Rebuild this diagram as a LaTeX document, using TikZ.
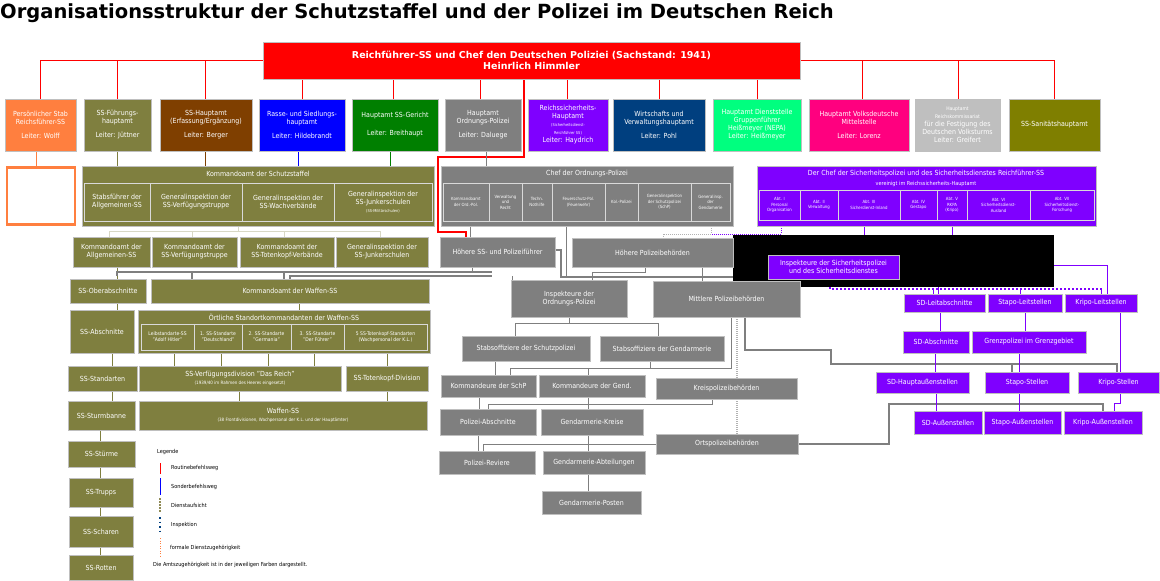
\documentclass[tikz,border=0pt]{standalone}
\usepackage{fontspec}
\setmainfont{DejaVu Sans Condensed}
\usetikzlibrary{backgrounds}
\definecolor{cor}{HTML}{FF7F3F}\definecolor{col}{HTML}{7F7F3F}\definecolor{cbr}{HTML}{7F3F00}
\definecolor{cbl}{HTML}{0000FF}\definecolor{cgr}{HTML}{007F00}\definecolor{cgy}{HTML}{7F7F7F}
\definecolor{cpu}{HTML}{7F00FF}\definecolor{cnv}{HTML}{003F7F}\definecolor{cmi}{HTML}{00FF7F}
\definecolor{cpk}{HTML}{FF007F}\definecolor{clg}{HTML}{BFBFBF}\definecolor{cok}{HTML}{7F7F00}
\tikzset{bx/.style={draw=white!75!black,line width=0.6pt,text=white,align=center,inner sep=0.5pt,font=\fontsize{7}{8}\selectfont},
 sub/.style={bx,draw=white!85!black},
 ln/.style={line width=0.8pt},
 tiny/.style={font=\fontsize{5}{6}\selectfont}}
\newcommand\B[7][]{\node[bx,#1,minimum width={(#5-#3)*1pt},minimum height={(#6-#4)*1pt}] (#2) at ({(#3+#5)/2},{(#4+#6)/2}) {#7};}
\newcommand\fs[1]{\fontsize{#1}{#1}\selectfont}
\begin{document}
\begin{tikzpicture}[x=1pt,y=-1pt]
\useasboundingbox (0,0) rectangle (1160,581);
\node[anchor=west,font=\bfseries\fontsize{19.5}{20}\selectfont,inner sep=0] (title) at (0,13) {\fontspec{DejaVu Sans}\bfseries Organisationsstruktur der Schutzstaffel und der Polizei im Deutschen Reich};
% top
\B[fill=red,font=\bfseries\fontsize{9.5}{11}\selectfont]{top}{263}{42}{800}{79}{\fontspec{DejaVu Sans}\bfseries Reichführer-SS und Chef den Deutschen Poliziei (Sachstand: 1941)\\\fontspec{DejaVu Sans}\bfseries Heinrlich Himmler}
% row 1
\B[fill=cor]{a1}{5}{99}{76}{151}{Persönlicher Stab\\Reichsführer-SS\\[6pt]Leiter: Wolff}
\B[fill=col]{a2}{84}{99}{151}{151}{SS-Führungs-\\hauptamt\\[6pt]Leiter: Jüttner}
\B[fill=cbr]{a3}{160}{99}{252}{151}{SS-Hauptamt\\(Erfassung/Ergänzung)\\[6pt]Leiter: Berger}
\B[fill=cbl]{a4}{259}{99}{345}{151}{Rasse- und Siedlungs-\\hauptamt\\[6pt]Leiter: Hildebrandt}
\B[fill=cgr]{a5}{352}{99}{438}{151}{Hauptamt SS-Gericht\\[10pt]Leiter: Breithaupt}
\B[fill=cgy]{a6}{445}{99}{521}{151}{Hauptamt\\Ordnungs-Polizei\\[6pt]Leiter: Daluege}
\B[fill=cpu]{a7}{528}{99}{608}{151}{Reichssicherheits-\\Hauptamt\\\fs{4}(Sicherheitsdienst-\\\fs{4}Reichführer SS)\\\fs{7}Leiter: Haydrich}
\B[fill=cnv]{a8}{613}{99}{705}{151}{Wirtschafts und\\Verwaltungshauptamt\\[6pt]Leiter: Pohl}
\B[fill=cmi]{a9}{713}{99}{801}{151}{Hauptamt Dienststelle\\Gruppenführer\\Heißmeyer (NEPA)\\Leiter: Heißmeyer}
\B[fill=cpk]{a10}{809}{99}{909}{151}{Hauptamt Volksdeutsche\\Mittelstelle\\[6pt]Leiter: Lorenz}
\B[fill=clg]{a11}{915}{99}{1000}{151}{\fs{5}Hauptamt\\\fs{5}Reichskommissariat\\\fs{7}für die Festigung des\\\fs{7}Deutschen Volksturms\\\fs{7}Leiter: Greifert}
\B[fill=cok]{a12}{1009}{99}{1100}{151}{SS-Sanitätshauptamt}
% orange empty
\node[draw=cor,line width=2.5pt,minimum width=68pt,minimum height=57pt] (emp) at (41,196) {};
% Kommandoamt der Schutzstaffel
\B[fill=col]{ks}{82}{166}{434}{226}{}
\node[text=white,font=\fontsize{7}{8}\selectfont] (kst) at (258,174) {Kommandoamt der Schutzstaffel};
\B[sub,fill=col]{ks1}{84}{183}{150}{221}{Stabsführer der\\Allgemeinen-SS}
\B[sub,fill=col]{ks2}{150}{183}{242}{221}{Generalinspektion der\\SS-Verfügungstruppe}
\B[sub,fill=col]{ks3}{242}{183}{334}{221}{Generalinspektion der\\SS-Wachverbände}
\B[sub,fill=col]{ks4}{334}{183}{432}{221}{Generalinspektion der\\SS-Junkerschulen\\\fs{4}(SS-Militärschulen)}
\B[fill=col]{k1}{73}{237}{150}{267}{Kommandoamt der\\Allgemeinen-SS}
\B[fill=col]{k2}{152}{237}{237}{267}{Kommandoamt der\\SS-Verfügungstruppe}
\B[fill=col]{k3}{240}{237}{334}{267}{Kommandoamt der\\SS-Totenkopf-Verbände}
\B[fill=col]{k4}{336}{237}{428}{267}{Generalinspektion der\\SS-Junkerschulen}
\B[fill=col]{ob}{70}{279}{146}{303}{SS-Oberabschnitte}
\B[fill=col]{kw}{151}{279}{429}{303}{Kommandoamt der Waffen-SS}
\B[fill=col]{ab}{70}{310}{134}{353}{SS-Abschnitte}
\B[fill=col]{os}{138}{310}{430}{353}{}
\node[text=white,font=\fontsize{7}{8}\selectfont] (ost) at (284,317) {Örtliche Standortkommandanten der Waffen-SS};
\B[sub,fill=col,tiny]{o1}{141}{324}{194}{350}{Leibstandarte-SS\\"Adolf Hitler"}
\B[sub,fill=col,tiny]{o2}{194}{324}{242}{350}{1. SS-Standarte\\"Deutschland"}
\B[sub,fill=col,tiny]{o3}{242}{324}{291}{350}{2. SS-Standarte\\"Germania"}
\B[sub,fill=col,tiny]{o4}{291}{324}{344}{350}{3. SS-Standarte\\"Der Führer"}
\B[sub,fill=col,tiny]{o5}{344}{324}{427}{350}{5 SS-Totenkopf-Standarten\\(Wachpersonal der K.L.)}
\B[fill=col]{st}{68}{366}{137}{391}{SS-Standarten}
\B[fill=col]{vd}{139}{366}{341}{391}{SS-Verfügungsdivision "Das Reich"\\\fs{4.5}(1939/40 im Rahmen des Heeres eingesetzt)}
\B[fill=col]{td}{346}{366}{428}{391}{SS-Totenkopf-Division}
\B[fill=col]{sb}{68}{401}{135}{430}{SS-Sturmbanne}
\B[fill=col]{wf}{139}{401}{427}{430}{Waffen-SS\\\fs{4.5}(38 Frontdivisionen, Wachpersonal der K.L. und der Hauptämter)}
\B[fill=col]{sst}{68}{441}{135}{467}{SS-Stürme}
\B[fill=col]{str}{69}{478}{133}{507}{SS-Trupps}
\B[fill=col]{ssc}{69}{516}{133}{547}{SS-Scharen}
\B[fill=col]{sro}{69}{555}{133}{580}{SS-Rotten}
% legend
\tikzset{lg/.style={anchor=west,font=\fontsize{5.5}{6}\selectfont,inner sep=0}}
\node[lg] (lg0) at (157,452) {Legende};
\node[lg] (lg1) at (171,468) {Routinebefehlsweg};
\node[lg] (lg2) at (171,487) {Sonderbefehlsweg};
\node[lg] (lg3) at (171,505) {Dienstaufsicht};
\node[lg] (lg4) at (171,525) {Inspektion};
\node[lg] (lg5) at (170,548) {formale Dienstzugehörigkeit};
\node[lg] (lg6) at (153,565) {Die Amtszugehörigkeit ist in der jeweiligen Farben dargestellt.};
\coordinate (l1a) at (160,463);\coordinate (l1b) at (160,474);
\coordinate (l2a) at (160,478);\coordinate (l2b) at (160,495);
\coordinate (l3a) at (160,498);\coordinate (l3b) at (160,512);
\coordinate (l4a) at (160,517);\coordinate (l4b) at (160,533);
\coordinate (l5a) at (160,538);\coordinate (l5b) at (160,556);
\draw[red,line width=0.6pt] (l1a)--(l1b);
\draw[cbl,line width=1pt] (l2a)--(l2b);
\draw[gray!60!olive,line width=1.2pt,dash pattern=on 2pt off 1pt] (l3a)--(l3b);
\draw[cnv,line width=1.5pt,dash pattern=on 1.5pt off 3pt] (l4a)--(l4b);
\draw[cor,line width=1pt,dash pattern=on 1pt off 1.5pt] (l5a)--(l5b);
% police gray
\B[fill=cgy]{co}{441}{166}{733}{226}{}
\node[text=white,font=\fontsize{7}{8}\selectfont] (cot) at (587,174) {Chef der Ordnungs-Polizei};
\tikzset{ts/.style={sub,fill=cgy,font=\fontsize{4.3}{5.5}\selectfont}}
\B[ts]{c1}{443}{183}{489}{221}{Kommandoamt\\der Ord.-Pol.}
\B[ts]{c2}{489}{183}{522}{221}{Verwaltung\\und\\Recht}
\B[ts]{c3}{522}{183}{552}{221}{Techn.\\Nothilfe}
\B[ts]{c4}{552}{183}{605}{221}{Feuerschutz-Pol.\\(Feuerwehr)}
\B[ts]{c5}{605}{183}{638}{221}{Kol.-Polizei}
\B[ts]{c6}{638}{183}{691}{221}{Generalinspektion\\der Schutzpolizei\\(SchP)}
\B[ts]{c7}{691}{183}{730}{221}{Generalinsp.\\der\\Gendamerie}
\node[fill=black,minimum width=321pt,minimum height=52pt,inner sep=0] (blk) at (893.5,261) {};
\B[fill=cgy]{hs}{440}{237}{555}{267}{Höhere SS- und Polizeiführer}
\B[fill=cgy]{hp}{572}{238}{733}{267}{Höhere Polizeibehörden}
\B[fill=cpu]{is}{768}{255}{899}{279}{Inspekteure der Sicherheitspolizei\\und des Sicherheitsdienstes}
\B[fill=cgy]{io}{511}{280}{627}{317}{Inspekteure der\\Ordnungs-Polizei}
\B[fill=cgy]{mp}{653}{281}{800}{317}{Mittlere Polizeibehörden}
\B[fill=cgy]{ss}{462}{336}{590}{361}{Stabsoffiziere der Schutzpolizei}
\B[fill=cgy]{sg}{600}{336}{724}{361}{Stabsoffiziere der Gendarmerie}
\B[fill=cgy]{ks5}{441}{375}{536}{397}{Kommandeure der SchP}
\B[fill=cgy]{kg}{539}{375}{645}{397}{Kommandeure der Gend.}
\B[fill=cgy]{kp}{656}{378}{797}{399}{Kreispolizeibehörden}
\B[fill=cgy]{pa}{440}{409}{536}{435}{Polizei-Abschnitte}
\B[fill=cgy]{gk}{541}{409}{643}{435}{Gendarmerie-Kreise}
\B[fill=cgy]{op}{656}{434}{798}{454}{Ortspolizeibehörden}
\B[fill=cgy]{pr}{439}{451}{535}{474}{Polizei-Reviere}
\B[fill=cgy]{ga}{543}{451}{645}{474}{Gendarmerie-Abteilungen}
\B[fill=cgy]{gp}{542}{491}{641}{514}{Gendarmerie-Posten}
% purple
\B[fill=cpu]{cs}{757}{166}{1096}{226}{}
\node[text=white,font=\fontsize{7}{8}\selectfont] (cst) at (926,174) {Der Chef der Sicherheitspolizei und des Sicherheitsdienstes Reichführer-SS};
\node[text=white,font=\fontsize{5.5}{6}\selectfont] (cst2) at (926,184) {vereinigt im Reichssicherheits-Hauptamt};
\tikzset{ps/.style={sub,fill=cpu,font=\fontsize{4.3}{5.5}\selectfont}}
\B[ps]{p1}{759}{190}{800}{220}{Abt. I\\Personal\\Organisation}
\B[ps]{p2}{800}{190}{838}{220}{Abt. II\\Verwaltung}
\B[ps]{p3}{838}{190}{900}{220}{Abt. III\\Sicherdienst-Inland}
\B[ps]{p4}{900}{190}{937}{220}{Abt. IV\\Gestapo}
\B[ps]{p5}{937}{190}{967}{220}{Abt. V\\RKPA\\(Kripo)}
\B[ps]{p6}{967}{190}{1030}{220}{Abt. VI\\Sicherheitsdienst-\\Ausland}
\B[ps]{p7}{1030}{190}{1094}{220}{Abt. VII\\Sicherheitsdienst-\\Forschung}
\B[fill=cpu]{sdl}{904}{294}{985}{312}{SD-Leitabschnitte}
\B[fill=cpu]{stl}{988}{294}{1062}{312}{Stapo-Leitstellen}
\B[fill=cpu]{krl}{1065}{294}{1137}{312}{Kripo-Leitstellen}
\B[fill=cpu]{sda}{903}{331}{969}{353}{SD-Abschnitte}
\B[fill=cpu]{gz}{972}{331}{1086}{353}{Grenzpolizei im Grenzgebiet}
\B[fill=cpu]{sdh}{876}{372}{969}{393}{SD-Hauptaußenstellen}
\B[fill=cpu]{sts}{985}{372}{1069}{393}{Stapo-Stellen}
\B[fill=cpu]{krs}{1078}{372}{1159}{393}{Kripo-Stellen}
\B[fill=cpu]{sdo}{914}{411}{982}{434}{SD-Außenstellen}
\B[fill=cpu]{sto}{984}{411}{1061}{434}{Stapo-Außenstellen}
\B[fill=cpu]{kro}{1064}{411}{1142}{434}{Kripo-Außenstellen}
\begin{pgfonlayer}{background}
% red
\draw[red,ln] (40,60) -- (1054,60);
\foreach \n/\x in {a1/40,a2/117,a3/205,a4/302,a5/393,a6/480,a7/567,a8/659,a9/757,a10/862,a11/958,a12/1054} \draw[red,ln] (\x,60) -- (\n.north -| \x,0);
\draw[red,line width=2pt] (524,79) -- (524,157) -- (438,157) -- (438,232) -- (466,232) -- (hs.north -| 466,0);
% first tier
\draw[cor,ln] (a1.south -| 36,0) -- (emp.north -| 36,0);
\draw[col,ln] (a2.south) -- (ks.north -| a2.south);
\draw[cbr,ln] (a3.south -| 205,0) -- (ks.north -| 205,0);
\draw[cbl,ln] (a4.south -| 298,0) -- (ks.north -| 298,0);
\draw[cgr,ln] (a5.south -| 390,0) -- (ks.north -| 390,0);
\draw[cgy,ln] (a6.south -| 486,0) -- (co.north -| 486,0);
\draw[white!70!col,ln] (ks.south -| 238,0) -- (238,231) (109,231) -- (380,231);
\foreach \x in {109,192,284,380} \draw[white!70!col,ln] (\x,231) -- (\x,237);
% olive column
\draw[col,ln] (117,267) -- (ob.north -| 117,0);
\draw[col,ln] (ob.south -| 117,0) -- (ab.north -| 117,0);
\draw[col,ln] (ab.south -| 112,0) -- (st.north -| 112,0);
\draw[col,ln] (st.south -| 112,0) -- (sb.north -| 112,0);
\foreach \a/\b in {sb/sst,sst/str,str/ssc,ssc/sro} \draw[col,ln] (\a.south -| 100,0) -- (\b.north -| 100,0);
\draw[col,ln] (kw.south -| 299,0) -- (os.north -| 299,0);
\foreach \x in {174,221,268,314} \draw[col,ln] (\x,353) -- (\x,366);
\draw[col,ln] (387,353) -- (387,366);
\draw[col,ln] (239,391) -- (239,401) (387,391) -- (387,401);
% gray HSSPF lines
\draw[cgy,line width=1.2pt] (117,276) -- (117,272) -- (492,272);
\draw[cgy,line width=1.2pt] (192,279) -- (192,272) (284,279)--(284,272) (290,279)--(290,276)--(492,276);
\draw[cgy,ln] (472,267) -- (472,272) (512,276)--(512,280);
\draw[cgy,line width=1.2pt] (555,250) -- (561,250) -- (561,277) -- (768,277);
\draw[cgy,ln] (470,226) -- (hs.north -| 470,0);
\draw[cgy,ln] (566,226) -- (566,277);
\draw[cgy,ln] (645,267) -- (645,272) -- (592,272) -- (592,280);
\draw[cgy,ln] (702,267) -- (702,281);
\draw[cgy,ln] (569,317) -- (569,323) (515,323)--(658,323) (515,323)--(515,336) (658,323)--(658,336);
\draw[cgy,ln] (495,361) -- (495,375);
\draw[cgy,ln] (650,361) -- (650,368) -- (588,368) -- (588,375);
\draw[cgy,ln] (731,317) -- (731,368) -- (510,368) -- (510,375);
\draw[cgy,ln] (479,397) -- (479,409) (588,397)--(588,409);
\draw[cgy,ln] (712,399) -- (712,404) -- (488,404) -- (488,409);
\draw[cgy,ln] (478,435) -- (478,451) (588,435)--(588,451) (588,474)--(588,491);
\draw[cgy,ln] (656,444) -- (483,444) -- (483,451);
\draw[gray!60,line width=1.2pt,dash pattern=on 1pt off 1pt] (737,317) -- (737,434);
\draw[cgy,line width=1.5pt] (745,317) -- (745,350) -- (831,350) -- (831,364) -- (1117,364) -- (1117,372);
\draw[cgy,line width=1.5pt] (1012,364) -- (1012,372);
\draw[cgy,line width=1.5pt] (798,444) -- (889,444) -- (889,404) -- (1103,404) -- (1103,411);
% dotted
\draw[gray!60,line width=1pt,dash pattern=on 1pt off 1pt] (733,256) -- (740,256) -- (740,265) -- (768,265);
\draw[gray!60,line width=1pt,dash pattern=on 1pt off 1pt] (711,226) -- (711,234) -- (663,234) -- (663,238);
\draw[cpu,line width=1pt,dash pattern=on 1pt off 1pt] (781,220) -- (781,234) -- (711,234);
\draw[cpu,line width=2pt,dash pattern=on 2pt off 2pt] (830,279) -- (830,289) -- (1102,289);
\foreach \x in {933,1020,1101} \draw[cpu,line width=1pt] (\x,289) -- (\x,294);
% purple
\draw[cpu,ln] (864,220) -- (864,237) -- (938,237) -- (sdl.north -| 938,0);
\draw[cpu,ln] (952,220) -- (952,265) -- (1107,265) -- (krl.north -| 1107,0);
\draw[cpu,ln] (940,312) -- (940,331) (935,353) -- (935,372) (936,393)--(936,411);
\draw[cpu,ln] (1025,312) -- (1025,331) (1019,353) -- (1019,372) (1019,393)--(1019,411);
\draw[cpu,ln] (1120,312) -- (1120,372) (1120,393) -- (1120,403) -- (1114,403) -- (1114,411);
\end{pgfonlayer}
\end{tikzpicture}
\end{document}
